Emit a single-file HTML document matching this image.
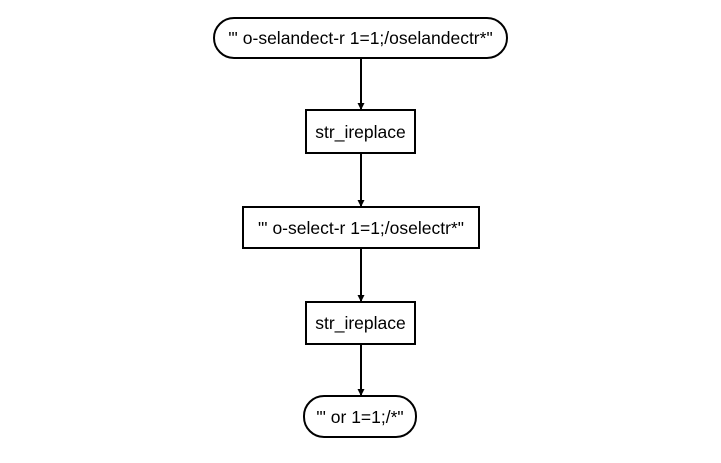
<!DOCTYPE html>
<html><head><style>body{margin:0;background:#fff}</style></head><body>
<svg width="721" height="458" xmlns="http://www.w3.org/2000/svg" font-family="'Liberation Sans', sans-serif" font-size="17.5" fill="#000">
<defs><marker id="a" markerWidth="7" markerHeight="7" refX="6" refY="3.5" orient="auto" markerUnits="userSpaceOnUse"><path d="M0,0 L7,3.5 L0,7 z" fill="#000"/></marker></defs>
<g stroke="#000" stroke-width="2" fill="none">
<rect x="214" y="18" width="293" height="40" rx="20"/>
<rect x="306" y="110" width="109" height="43"/>
<rect x="243" y="207" width="236" height="41"/>
<rect x="306" y="302" width="109" height="42"/>
<rect x="304" y="396" width="112" height="41" rx="20"/>
<line x1="361" y1="58" x2="361" y2="109" marker-end="url(#a)"/>
<line x1="361" y1="153" x2="361" y2="206" marker-end="url(#a)"/>
<line x1="361" y1="248" x2="361" y2="301" marker-end="url(#a)"/>
<line x1="361" y1="344" x2="361" y2="395" marker-end="url(#a)"/>
</g>
<g text-anchor="middle">
<text x="360.5" y="44">"' o-selandect-r 1=1;/oselandectr*"</text>
<text x="360.5" y="138">str_ireplace</text>
<text x="361" y="234">"' o-select-r 1=1;/oselectr*"</text>
<text x="360.5" y="329">str_ireplace</text>
<text x="360" y="423">"' or 1=1;/*"</text>
</g>
</svg>
</body></html>
